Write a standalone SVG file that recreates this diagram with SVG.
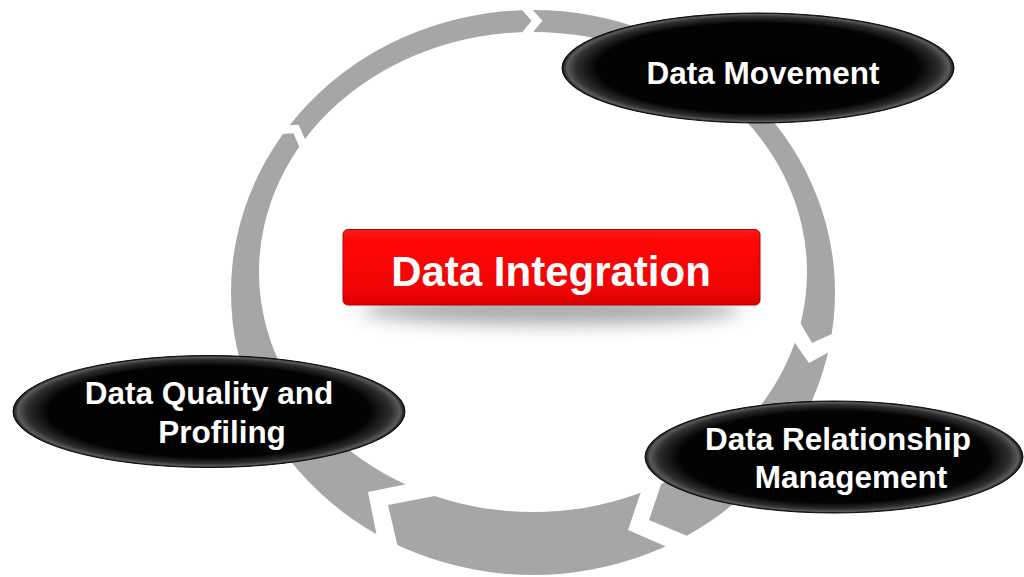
<svg xmlns="http://www.w3.org/2000/svg" width="1024" height="577" viewBox="0 0 1024 577">
<defs>
<radialGradient id="blk" cx="50%" cy="50%" r="50%">
<stop offset="0" stop-color="#000"/>
<stop offset="0.82" stop-color="#030303"/>
<stop offset="0.93" stop-color="#2e2e2e"/>
<stop offset="0.975" stop-color="#5a5a5a"/>
<stop offset="1" stop-color="#111"/>
</radialGradient>
<linearGradient id="red" x1="0" y1="0" x2="0" y2="1">
<stop offset="0" stop-color="#ff1a1a"/>
<stop offset="0.15" stop-color="#ff0606"/>
<stop offset="0.8" stop-color="#f00404"/>
<stop offset="1" stop-color="#d80000"/>
</linearGradient>
<filter id="blur" x="-50%" y="-200%" width="200%" height="500%">
<feGaussianBlur stdDeviation="9"/>
</filter>
<style>
.ring{fill:#a6a6a6;fill-rule:evenodd}
.gap{fill:#fff}
.ell{fill:url(#blk);stroke:#0a0a0a;stroke-width:1}
.lbl{font-family:"Liberation Sans",Arial,sans-serif;font-weight:bold;fill:#fff;text-anchor:middle}
.e{font-size:31.5px}
.c{font-size:42px}
</style>
</defs>
<rect width="1024" height="577" fill="#fff"/>
<g id="connectors">
<path class="ring" d="M231,292.5 A302,282.5 0 1 0 835,292.5 A302,282.5 0 1 0 231,292.5 Z M259,272 A274,240 0 1 0 807,272 A274,240 0 1 0 259,272 Z"/>
<polygon class="gap" points="516.7,4 531.7,20.7 517.5,38 528.2,38 542.4,20.7 527.4,4"/>
<polygon class="gap" points="272.8,134.5 293.5,133.2 301.7,152.2 306.9,143.7 298.7,124.7 278,126"/>
<polygon class="gap" points="794,312 812,343 843,329 840,346 809,363 790,336"/>
<polygon class="gap" points="665,473 649,520 697,540 674,550 628,530 643,486"/>
<polygon class="gap" points="412,483 368,492 379,547 399,552 388,505 445,494"/>
</g>
<g id="data-integration">
<ellipse cx="551" cy="310" rx="190" ry="14" fill="#8a8a8a" opacity="0.75" filter="url(#blur)"/>
<rect x="343" y="229.5" width="417" height="75.5" rx="5" fill="url(#red)" stroke="#b80000" stroke-width="1"/>
<text class="lbl c" x="551" y="286">Data Integration</text>
</g>
<g id="data-movement">
<ellipse class="ell" cx="758" cy="68" rx="196" ry="55"/>
<text class="lbl e" x="763" y="84">Data Movement</text>
</g>
<g id="data-quality">
<ellipse class="ell" cx="209" cy="411.5" rx="196" ry="56"/>
<text class="lbl e" x="209" y="404">Data Quality and</text>
<text class="lbl e" x="222" y="443">Profiling</text>
</g>
<g id="data-relationship">
<ellipse class="ell" cx="834" cy="457" rx="189" ry="56"/>
<text class="lbl e" x="838" y="450">Data Relationship</text>
<text class="lbl e" x="851" y="488">Management</text>
</g>
</svg>
